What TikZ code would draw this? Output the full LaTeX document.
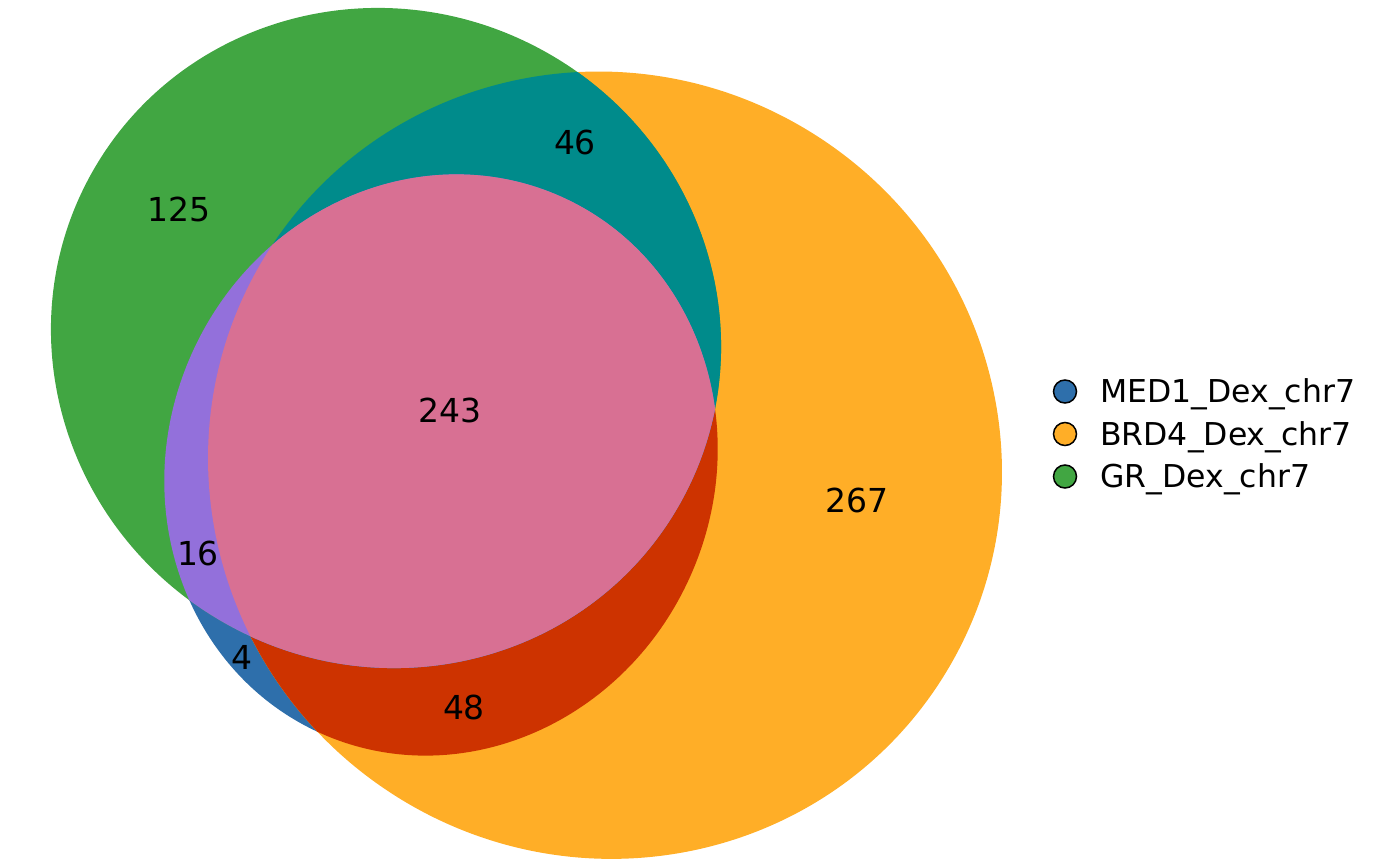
\documentclass[tikz,border=0pt]{standalone}
\usepackage{fontspec}
\setmainfont{DejaVu Sans}
\definecolor{cMED}{HTML}{2E6FAB}
\definecolor{cBRD}{HTML}{FFAE27}
\definecolor{cGR}{HTML}{41A642}
\definecolor{cGB}{HTML}{008B8B}
\definecolor{cGM}{HTML}{9370DB}
\definecolor{cBM}{HTML}{CD3300}
\definecolor{cAll}{HTML}{D87093}
\tikzset{
  grrot/.style={rotate around={-29.7:(386,338)}},
  medrot/.style={rotate around={65.7:(441,465)}},
  brdrot/.style={rotate around={-32:(605,465.2)}},
  numlab/.style={inner sep=0pt, anchor=base, font=\fontsize{33}{40}\selectfont},
  legtext/.style={inner sep=0pt, anchor=base west, font=\fontsize{31.5}{38}\selectfont},
  legdot/.style={circle, draw=black, line width=1.5pt, minimum size=23pt, inner sep=0pt}
}
\begin{document}
\begin{tikzpicture}[x=1pt,y=-1pt]
\useasboundingbox (0,0) rectangle (1400,866);
% base shapes
\fill[cMED, medrot] (441,465) ellipse [x radius=294pt, y radius=273pt];
\fill[cBRD, brdrot] (605,465.2) ellipse [x radius=399pt, y radius=391.5pt];
\fill[cGR, grrot] (386,338) ellipse [x radius=337.4pt, y radius=327.6pt];
% BRD4 & MED1
\begin{scope}
  \clip[brdrot] (605,465.2) ellipse [x radius=399pt, y radius=391.5pt];
  \fill[cBM, medrot] (441,465) ellipse [x radius=294pt, y radius=273pt];
\end{scope}
% GR & ...
\begin{scope}
  \clip[grrot] (386,338) ellipse [x radius=337.4pt, y radius=327.6pt];
  \fill[cGB, brdrot] (605,465.2) ellipse [x radius=399pt, y radius=391.5pt];
  \fill[cGM, medrot] (441,465) ellipse [x radius=294pt, y radius=273pt];
  \clip[brdrot] (605,465.2) ellipse [x radius=399pt, y radius=391.5pt];
  \fill[cAll, medrot] (441,465) ellipse [x radius=294pt, y radius=273pt];
\end{scope}
% quantities
\node[numlab] (q125) at (179,222) {125};
\node[numlab] (q46) at (575,155) {46};
\node[numlab] (q243) at (450,422) {243};
\node[numlab] (q16) at (198,565) {16};
\node[numlab] (q4) at (242,669) {4};
\node[numlab] (q48) at (464,719) {48};
\node[numlab] (q267) at (857,512) {267};
% legend
\node[legdot, fill=cMED] (d1) at (1065,391.5) {};
\node[legdot, fill=cBRD] (d2) at (1065,434) {};
\node[legdot, fill=cGR] (d3) at (1065,476.5) {};
\node[legtext] (t1) at (1100,402.5) {MED1\_Dex\_chr7};
\node[legtext] (t2) at (1100,445) {BRD4\_Dex\_chr7};
\node[legtext] (t3) at (1100,487.5) {GR\_Dex\_chr7};
\end{tikzpicture}
\end{document}
